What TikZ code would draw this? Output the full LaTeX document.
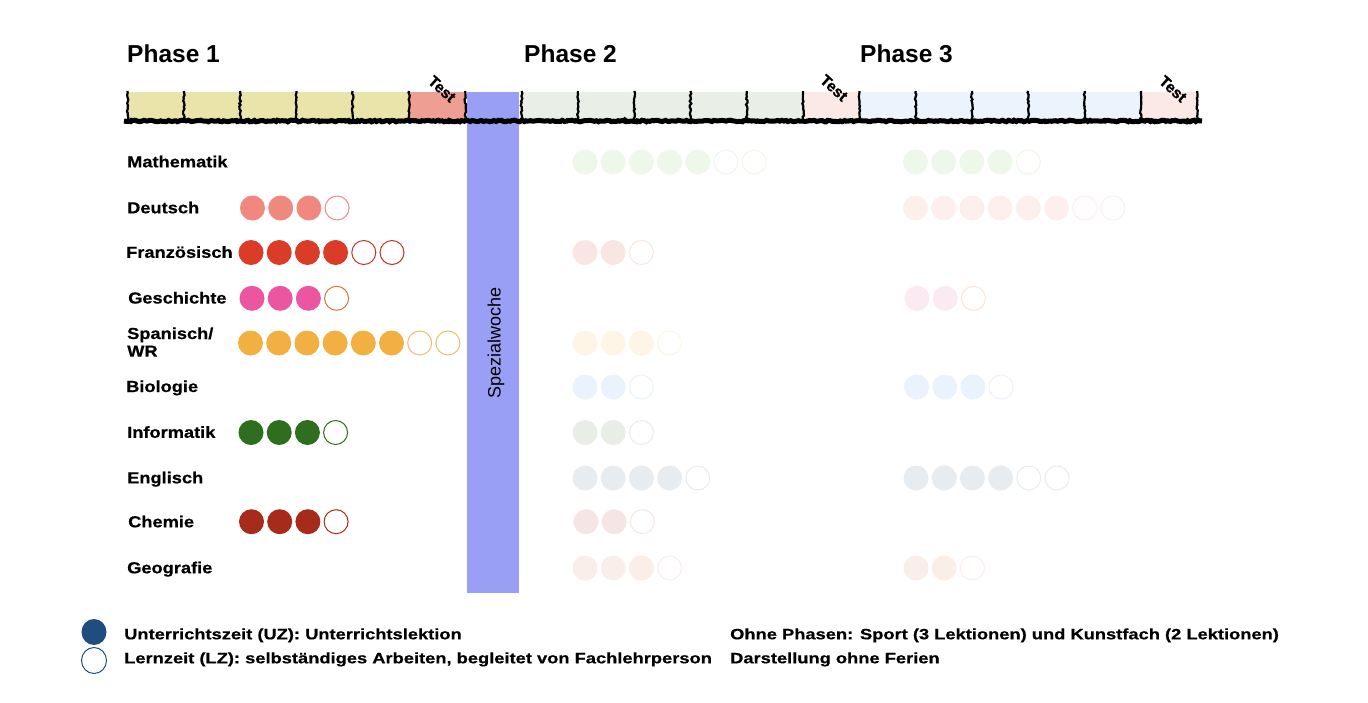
\documentclass[tikz,border=0pt]{standalone}
\usepackage{fontspec}
\setmainfont{Liberation Sans}
\newfontfamily\fachfont[FakeStretch=1.14,FakeBold=0.5]{Liberation Sans}
\newfontfamily\legfont[FakeStretch=1.22,FakeBold=0.5]{Liberation Sans}
\newfontfamily\testfont[FakeBold=0.8]{Liberation Sans}
\usetikzlibrary{decorations.pathmorphing}

\definecolor{woche}{HTML}{EAE4AA}
\definecolor{testA}{HTML}{EE9E92}
\definecolor{wocheB}{HTML}{E9EEE6}
\definecolor{testB}{HTML}{FBE9E5}
\definecolor{wocheC}{HTML}{EBF3FD}
\definecolor{spezial}{HTML}{9A9FF6}
\definecolor{deutsch}{HTML}{F0887F}
\definecolor{franz}{HTML}{DA3C27}
\definecolor{gesch}{HTML}{EC55A0}
\definecolor{geschrand}{HTML}{D2763A}
\definecolor{spanisch}{HTML}{F2B042}
\definecolor{spanischrand}{HTML}{EDBE6C}
\definecolor{info}{HTML}{2F6E1F}
\definecolor{chemie}{HTML}{A72B1A}
\definecolor{mathB}{HTML}{EEF8EA}
\definecolor{franzB}{HTML}{F9E6E3}
\definecolor{deutschB}{HTML}{FCEFEC}
\definecolor{geschB}{HTML}{FCEAF3}
\definecolor{geschBrand}{HTML}{FBE3D3}
\definecolor{spanischB}{HTML}{FEF5E7}
\definecolor{bioB}{HTML}{EAF2FD}
\definecolor{infoB}{HTML}{E8EEE5}
\definecolor{englB}{HTML}{E7ECF1}
\definecolor{chemieB}{HTML}{F5E6E4}
\definecolor{geoB}{HTML}{FAEEE8}
\definecolor{legblau}{HTML}{1F4E7E}

\tikzset{
  phase/.style={font=\bfseries\fontsize{24.5}{28}\selectfont, anchor=base west, inner sep=0},
  fach/.style={font=\fachfont\bfseries\fontsize{16}{18}\selectfont, anchor=base west, inner sep=0},
  legende/.style={font=\legfont\bfseries\fontsize{15}{18}\selectfont, anchor=base west, inner sep=0},
  testlabel/.style={font=\testfont\bfseries\fontsize{15.5}{16}\selectfont, rotate=-42, inner sep=0},
  rough/.style={decorate, decoration={random steps, segment length=2pt, amplitude=0.8pt}}
}

% x, y, filled, open, fill colour, line colour
\newcommand{\lektionen}[6]{%
  \foreach \i in {1,...,#3}
    \fill[#5] ({#1+28.2*(\i-1)},#2) circle (12.5);
  \foreach \i in {1,...,#4}
    \draw[#6,line width=1pt] ({#1+28.2*(#3+\i-1)},#2) circle (12);
}

\begin{document}
\begin{tikzpicture}[x=1pt,y=-1pt]
  \pgfmathsetseed{7}
  \useasboundingbox[fill=white] (0,0) rectangle (1368,702);

  % time line
  \foreach \k/\farbe in {0/woche,1/woche,2/woche,3/woche,4/woche,5/testA,
      7/wocheB,8/wocheB,9/wocheB,10/wocheB,11/wocheB,12/testB,
      13/wocheC,14/wocheC,15/wocheC,16/wocheC,17/wocheC,18/testB}
    \fill[\farbe] ({127.5+56.3*\k},92) rectangle ({127.5+56.3*(\k+1)},119);
  \fill[spezial] (467,92) rectangle (519,593);
  \foreach \k in {0,...,19}
    \draw[rough,line width=2.2pt] ({127.5+56.3*\k},91) -- ({127.5+56.3*\k},121);
  \draw[rough,line width=5pt] (124,121) -- (1202,121);

  \node[testlabel] (t1) at (442,89) {Test};
  \node[testlabel] (t2) at (834,88) {Test};
  \node[testlabel] (t3) at (1173,89) {Test};

  \node[phase] (p1) at (127,62) {Phase 1};
  \node[phase] (p2) at (524,62) {Phase 2};
  \node[phase] (p3) at (860,62) {Phase 3};

  \node[rotate=90, anchor=base, font=\fontsize{18}{20}\selectfont] (sw) at (500.5,342.5) {Spezialwoche};

  % subjects
  \node[fach] (mathe) at (127,167.3) {Mathematik};
  \node[fach] (deu) at (127,213.3) {Deutsch};
  \node[fach] (fra) at (126,257.8) {Französisch};
  \node[fach] (ges) at (128,303.5) {Geschichte};
  \node[fach] (spa) at (127,339) {Spanisch/};
  \node[fach] (wr) at (127,356.7) {WR};
  \node[fach] (bio) at (126,392) {Biologie};
  \node[fach] (inf) at (127,437.8) {Informatik};
  \node[fach] (eng) at (127,483.3) {Englisch};
  \node[fach] (che) at (128,527.3) {Chemie};
  \node[fach] (geo) at (127,573.3) {Geografie};

  % phase 1
  \lektionen{252.5}{208}{3}{1}{deutsch}{deutsch}
  \lektionen{251}{252.5}{4}{2}{franz}{franz!90!black}
  \lektionen{252}{298.3}{3}{1}{gesch}{geschrand}
  \lektionen{250.5}{343}{6}{2}{spanisch}{spanischrand}
  \lektionen{251}{432.5}{3}{1}{info}{info}
  \lektionen{251.5}{521.7}{3}{1}{chemie}{chemie}

  % phase 2
  \lektionen{585}{162}{5}{2}{mathB}{mathB}
  \lektionen{585}{252.5}{2}{1}{franzB}{franzB}
  \lektionen{585}{343}{3}{1}{spanischB}{spanischB}
  \lektionen{585}{387}{2}{1}{bioB}{bioB}
  \lektionen{585}{432.5}{2}{1}{infoB}{infoB}
  \lektionen{585}{478}{4}{1}{englB}{englB}
  \lektionen{586}{521.7}{2}{1}{chemieB}{chemieB}
  \lektionen{585}{568}{3}{1}{geoB}{geoB}

  % phase 3
  \lektionen{915.5}{162}{4}{1}{mathB}{mathB}
  \lektionen{915.5}{208}{6}{2}{deutschB}{deutschB}
  \lektionen{917}{298.3}{2}{1}{geschB}{geschBrand}
  \lektionen{916.5}{387}{3}{1}{bioB}{bioB}
  \lektionen{916}{478}{4}{2}{englB}{englB}
  \lektionen{916}{568}{2}{1}{geoB}{geoB}

  % legend
  \fill[legblau] (94,632) ellipse (12.5 and 13);
  \draw[legblau,line width=1pt] (94,660.5) ellipse (12.5 and 13);
  \node[legende] (uz) at (124,639.3) {Unterrichtszeit (UZ): Unterrichtslektion};
  \node[legende] (lz) at (124,663.3) {Lernzeit (LZ): selbständiges Arbeiten, begleitet von Fachlehrperson};
  \node[legende] (ohne) at (730,639.3) {Ohne Phasen: Sport (3 Lektionen) und Kunstfach (2 Lektionen)};
  \node[legende] (ferien) at (730,663.3) {Darstellung ohne Ferien};
\end{tikzpicture}
\end{document}
